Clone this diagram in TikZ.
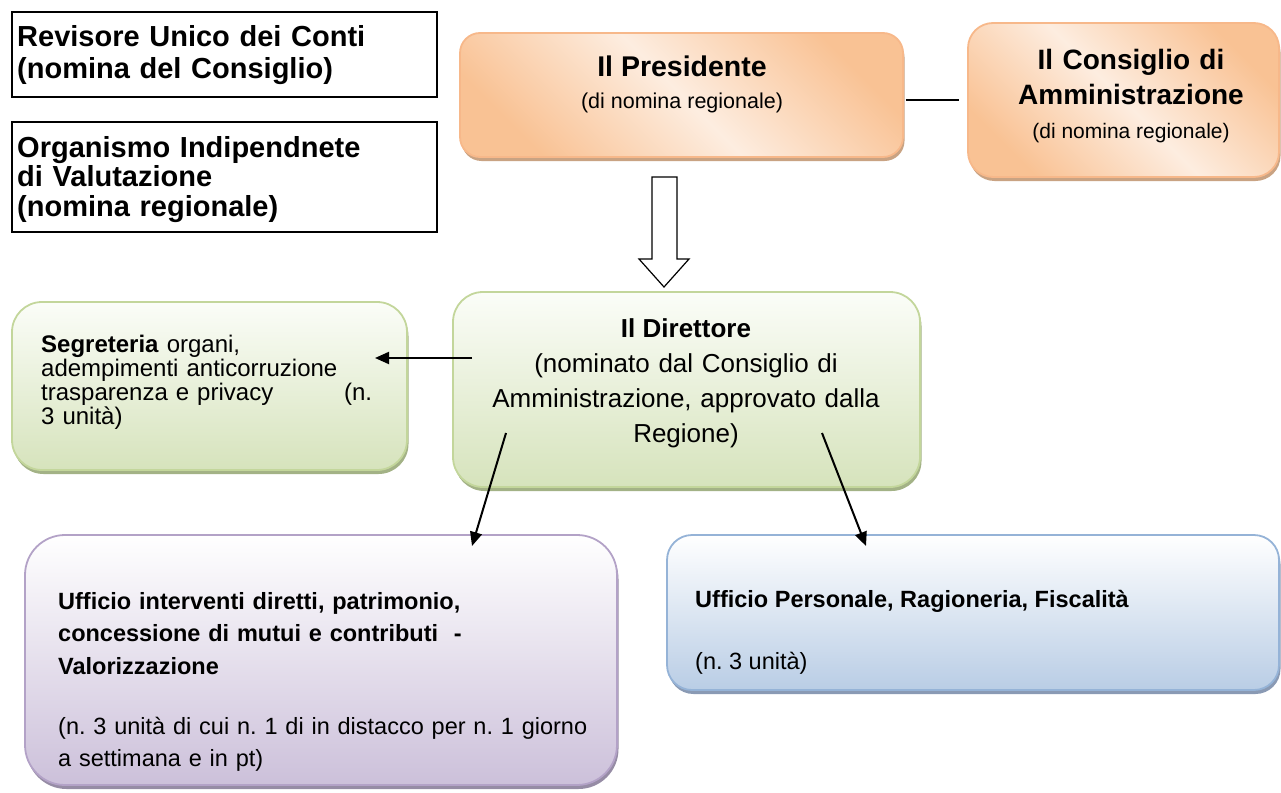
\documentclass[tikz,border=0pt]{standalone}
\usepackage{fontspec}
\setmainfont{Liberation Sans}
\usetikzlibrary{arrows.meta,shadows}

\definecolor{orgDark}{RGB}{249,194,148}
\definecolor{orgLight}{RGB}{253,237,224}
\definecolor{orgLine}{RGB}{247,184,138}
\definecolor{orgShadow}{RGB}{201,163,131}
\definecolor{grnTop}{RGB}{251,253,248}
\definecolor{grnBot}{RGB}{214,227,188}
\definecolor{grnLine}{RGB}{195,214,155}
\definecolor{grnShadow}{RGB}{163,178,134}
\definecolor{prpBot}{RGB}{204,192,218}
\definecolor{prpLine}{RGB}{179,162,199}
\definecolor{prpShadow}{RGB}{150,140,165}
\definecolor{bluBot}{RGB}{185,205,229}
\definecolor{bluLine}{RGB}{149,179,215}
\definecolor{bluShadow}{RGB}{138,154,180}

\tikzset{
  plainbox/.style={draw, line width=1.3pt, inner sep=0pt, outer sep=0pt},
  orgbox/.style={rounded corners=#1, draw=orgLine, line width=1.8pt, inner sep=0pt,
    top color=orgDark, bottom color=orgDark, middle color=orgLight, shading angle=-45,
    drop shadow={shadow xshift=1.5pt, shadow yshift=-4pt, fill=orgShadow, opacity=1}},
  grnbox/.style={rounded corners=#1, draw=grnLine, line width=1.8pt, inner sep=0pt,
    top color=grnTop, bottom color=grnBot,
    drop shadow={shadow xshift=1.5pt, shadow yshift=-4pt, fill=grnShadow, opacity=1}},
  prpbox/.style={rounded corners=#1, draw=prpLine, line width=1.8pt, inner sep=0pt,
    top color=white, bottom color=prpBot,
    drop shadow={shadow xshift=1.5pt, shadow yshift=-4pt, fill=prpShadow, opacity=1}},
  blubox/.style={rounded corners=#1, draw=bluLine, line width=1.8pt, inner sep=0pt,
    top color=white, bottom color=bluBot,
    drop shadow={shadow xshift=1.5pt, shadow yshift=-4pt, fill=bluShadow, opacity=1}},
  ctr/.style={inner sep=0pt, anchor=base},
  lft/.style={inner sep=0pt, anchor=base west, align=left},
  boldbig/.style={lft, text width=415pt, font=\bfseries\fontsize{29}{29.5}\selectfont},
  narrow/.style={lft, font=\fontsize{23.5}{32.5}\selectfont\frenchspacing},
  narrowbold/.style={lft, font=\bfseries\fontsize{23.5}{32.5}\selectfont\frenchspacing},
  conn/.style={line width=2pt, -{Triangle[length=14pt,width=12pt]}}
}

\begin{document}
\begin{tikzpicture}[x=1pt,y=1pt,yscale=-1,xscale=1]
\useasboundingbox (0,0) rectangle (1281,792);

%Boxes: revisore, OIV
\node[plainbox, minimum width=425pt, minimum height=85pt] (rev) at (224.5,54.5) {};
\node[plainbox, minimum width=425pt, minimum height=110pt] (oiv) at (224.5,177) {};
\node[boldbig] (revT) at (17,46) {Revisore Unico dei Conti\\[3pt](nomina del Consiglio)};
\node[boldbig] (oivT) at (17,157) {Organismo Indipendnete\\di Valutazione\\(nomina regionale)};

%Presidente and Consiglio
\node[orgbox=20pt, minimum width=443pt, minimum height=124pt] (pres) at (681.5,95) {};
\node[ctr, font=\bfseries\fontsize{28.5}{30}\selectfont] (presT) at (682,77) {Il Presidente};
\node[ctr, font=\fontsize{21.5}{24}\selectfont] (presS) at (682,108) {(di nomina regionale)};

\node[orgbox=25pt, minimum width=311pt, minimum height=154pt] (cons) at (1123.5,100) {};
\node[ctr, text width=300pt, align=center, font=\bfseries\fontsize{28}{35}\selectfont] (consT) at (1131,70) {Il Consiglio di\\Amministrazione};
\node[ctr, font=\fontsize{21}{24}\selectfont] (consS) at (1131,138) {(di nomina regionale)};

\draw[line width=1.2pt] ([xshift=2pt]pres.east |- cons.west) -- ([xshift=-8pt]cons.west);

%Hollow arrow
\draw[line width=1.2pt, fill=white] (652,177) -- (677,177) -- (677,259) -- (689,259) -- (664,287) -- (639,259) -- (652,259) -- cycle;

%Direttore
\node[grnbox=30pt, minimum width=467pt, minimum height=195pt] (dir) at (686.5,389.5) {};
\node[ctr, font=\bfseries\fontsize{26}{30}\selectfont] (dirT) at (686,337) {Il Direttore};
\node[ctr, text width=440pt, align=center, font=\fontsize{26}{35}\selectfont] (dirS) at (686,372) {(nominato dal Consiglio di\\Amministrazione, approvato dalla\\Regione)};

%Segreteria
\node[grnbox=30pt, minimum width=395pt, minimum height=168pt] (seg) at (209.5,386) {};
\node[lft, text width=331pt, font=\fontsize{24}{24}\selectfont] (segT) at (41,352) {\textbf{Segreteria} organi,\\adempimenti anticorruzione\\trasparenza e privacy\hfill(n.\\3 unità)};

%Uffici
\node[prpbox=40pt, minimum width=592pt, minimum height=250pt] (uid) at (321,660) {};
\node[narrowbold, text width=560pt] (uidT) at (58,609) {Ufficio interventi diretti, patrimonio,\\concessione di mutui e contributi\ \ -\\Valorizzazione};
\node[narrow, text width=560pt] (uidS) at (58,734) {(n. 3 unità di cui n. 1 di in distacco per n. 1 giorno\\a settimana e in pt)};

\node[blubox=25pt, minimum width=612pt, minimum height=155pt] (upr) at (973,612.5) {};
\node[narrowbold] (uprT) at (695,607) {Ufficio Personale, Ragioneria, Fiscalità};
\node[narrow] (uprS) at (695,669) {(n. 3 unità)};

%Connectors
\coordinate (dirW) at (472,358);
\coordinate (segE) at (375,358);
\coordinate (dirA) at (506,433);
\coordinate (uidN) at (472,546);
\coordinate (dirB) at (822,433);
\coordinate (uprN) at (866,546);
\draw[conn] (dirW) -- (segE);
\draw[conn] (dirA) -- (uidN);
\draw[conn] (dirB) -- (uprN);

\end{tikzpicture}
\end{document}
